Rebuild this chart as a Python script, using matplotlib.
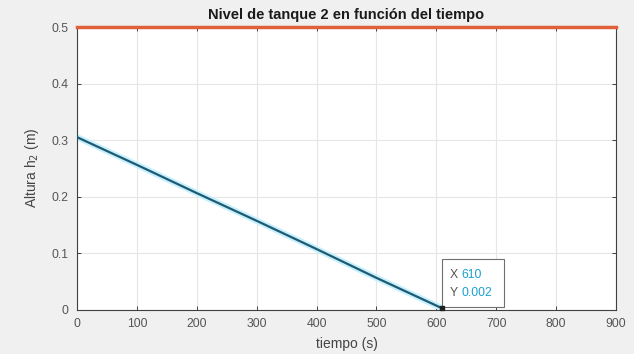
import matplotlib
matplotlib.use("Agg")
import matplotlib.pyplot as plt
from matplotlib.patches import Rectangle

plt.rcParams['font.family'] = ['Liberation Sans', 'DejaVu Sans']

# Data
t = [0, 100, 200, 300, 400, 500, 610]
h2 = [0.305, 0.256, 0.206, 0.157, 0.107, 0.056, 0.002]
ref_t = [0, 900]
ref_h = [0.5, 0.5]
tip_x, tip_y = 610, 0.002
xticks = [0, 100, 200, 300, 400, 500, 600, 700, 800, 900]
yticks = [0, 0.1, 0.2, 0.3, 0.4, 0.5]

fig = plt.figure(figsize=(6.34, 3.54), dpi=100, facecolor='#f0f0f0')
ax = fig.add_axes([0.1215, 0.1257, 0.8501, 0.798])
ax.set_facecolor('white')

# highlighted line (data tip selection halo)
ax.plot(t, h2, color='#c6f0ff', lw=4.5, solid_capstyle='butt', zorder=2)
ax.plot(t, h2, color='#1e5a70', lw=1.6, zorder=3)
ax.plot(ref_t, ref_h, color='#e0603a', lw=2.5, zorder=4, clip_on=False)
ax.plot([tip_x], [tip_y], marker='s', ms=3, color='#202020', zorder=7, clip_on=False)

ax.set_xlim(0, 900)
ax.set_ylim(0, 0.5)
ax.set_xticks(xticks)
ax.set_yticks(yticks)
ax.set_xticklabels([str(v) for v in xticks])
ax.set_yticklabels(['0', '0.1', '0.2', '0.3', '0.4', '0.5'])
ax.grid(True, color='#e6e6e6', lw=0.8)
ax.set_axisbelow(True)
ax.tick_params(direction='in', length=3, labelsize=8.8, colors='#262626',
               labelcolor='#555555', top=True, right=True, width=0.6)
ax.tick_params(axis='x', pad=6)
ax.tick_params(axis='y', pad=6)
for s in ax.spines.values():
    s.set_color('#404040')
    s.set_linewidth(0.8)

ax.set_title('Nivel de tanque 2 en función del tiempo', fontsize=10.5,
             fontweight='bold', color='#1a1a1a', pad=6)
ax.set_xlabel('tiempo (s)', fontsize=10, color='#444444', labelpad=5)
ax.set_ylabel('Altura h$_2$ (m)', fontsize=10, color='#444444', labelpad=8)

# data tip box
ax.add_patch(Rectangle((610, 0.005), 103, 0.084, facecolor='white', edgecolor='#707070',
                       lw=0.8, zorder=5, clip_on=False))
ax.text(623, 0.061, 'X', fontsize=8.8, color='#555555', va='center', ha='left', zorder=6)
ax.text(642, 0.061, '610', fontsize=8.8, color='#1aa0d0', va='center', ha='left', zorder=6)
ax.text(623, 0.029, 'Y', fontsize=8.8, color='#555555', va='center', ha='left', zorder=6)
ax.text(642, 0.029, '0.002', fontsize=8.8, color='#1aa0d0', va='center', ha='left', zorder=6)

fig.savefig('out.png', dpi=100, facecolor=fig.get_facecolor())
